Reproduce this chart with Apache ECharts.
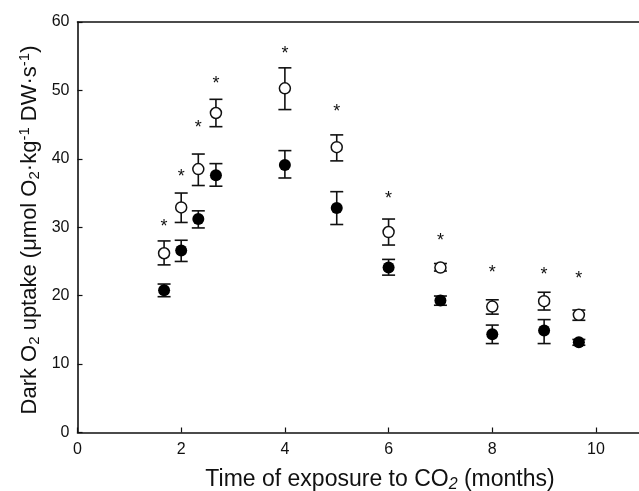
<!DOCTYPE html>
<html>
<head>
<meta charset="utf-8">
<script src="https://cdn.jsdelivr.net/npm/echarts@6/dist/echarts.min.js"></script>
<style>html,body{margin:0;padding:0;background:#fff}#c{width:639px;height:491px}</style>
</head>
<body>
<div id="c"></div>
<script>
// Time (months)
var months = [1.67, 2, 2.33, 2.67, 4, 5, 6, 7, 8, 9, 9.67];
// Open circles (means and error bar ends)
var openMean = [26.2, 32.9, 38.5, 46.7, 50.3, 41.7, 29.3, 24.1, 18.4, 19.2, 17.2];
var openHigh = [28.0, 35.0, 40.7, 48.7, 53.3, 43.5, 31.2, 24.7, 19.4, 20.5, 17.9];
var openLow  = [24.5, 30.7, 36.1, 44.7, 47.2, 39.7, 27.4, 23.6, 17.3, 17.9, 16.4];
// Filled circles
var fillMean = [20.8, 26.6, 31.2, 37.6, 39.1, 32.8, 24.1, 19.3, 14.35, 14.9, 13.2];
var fillHigh = [21.7, 28.1, 32.4, 39.3, 41.2, 35.2, 25.3, 19.95, 15.7, 16.5, 13.6];
var fillLow  = [19.85, 25.0, 29.9, 36.0, 37.2, 30.4, 23.0, 18.6, 13.0, 13.0, 12.75];
// Significance stars (y position)
var starY = [30.0, 37.3, 44.5, 51.0, 55.3, 46.9, 34.1, 28.0, 23.3, 23.0, 22.5];

var chart = echarts.init(document.getElementById('c'), null, {renderer: 'canvas'});

function errData(lo, hi) {
  return months.map(function (m, i) { return [m, lo[i], hi[i]]; });
}
function renderErr(params, api) {
  var x = api.value(0);
  var lo = api.coord([x, api.value(1)]);
  var hi = api.coord([x, api.value(2)]);
  var hw = 6.5;
  var st = {stroke: '#111', lineWidth: 1.6};
  return {
    type: 'group',
    children: [
      {type: 'line', shape: {x1: lo[0], y1: lo[1], x2: hi[0], y2: hi[1]}, style: st},
      {type: 'line', shape: {x1: lo[0] - hw, y1: lo[1], x2: lo[0] + hw, y2: lo[1]}, style: st},
      {type: 'line', shape: {x1: hi[0] - hw, y1: hi[1], x2: hi[0] + hw, y2: hi[1]}, style: st}
    ]
  };
}
function renderStar(params, api) {
  var p = api.coord([api.value(0), api.value(1)]);
  return {
    type: 'text',
    x: p[0], y: p[1],
    style: {text: '*', fill: '#111', font: '18px "Liberation Sans", Arial, sans-serif', align: 'center', verticalAlign: 'middle'}
  };
}

var font = '"Liberation Sans", Arial, sans-serif';
var option = {
  animation: false,
  backgroundColor: '#fff',
  grid: {left: 77.5, right: 0, top: 22, bottom: 58.5},
  xAxis: [{
    type: 'value', min: 0, max: 10.83, interval: 2,
    axisLine: {show: true, onZero: false, lineStyle: {color: '#111', width: 1.6}},
    axisTick: {show: true, inside: true, length: 5, lineStyle: {color: '#111', width: 1.2}},
    axisLabel: {color: '#111', fontSize: 16, fontFamily: font, margin: 9, showMaxLabel: false},
    splitLine: {show: false}
  }, {
    type: 'value', position: 'top', min: 0, max: 10.83,
    axisLine: {show: true, onZero: false, lineStyle: {color: '#111', width: 1.6}},
    axisTick: {show: false}, axisLabel: {show: false}, splitLine: {show: false}
  }],
  yAxis: {
    type: 'value', min: 0, max: 60, interval: 10,
    axisLine: {show: true, onZero: false, lineStyle: {color: '#111', width: 1.6}},
    axisTick: {show: true, inside: true, length: 5, lineStyle: {color: '#111', width: 1.2}},
    axisLabel: {color: '#111', fontSize: 16, fontFamily: font, margin: 8},
    splitLine: {show: false}
  },
  graphic: [{
    type: 'text', x: 380, y: 480,
    style: {
      text: 'Time of exposure to CO{s|2} (months)',
      font: '23px ' + font, fill: '#111', align: 'center', verticalAlign: 'middle',
      rich: {s: {fontSize: 16, fontFamily: font, padding: [10, 0, 0, 0], fontStyle: 'italic'}}
    }
  }, {
    type: 'text', x: 30, y: 230, rotation: Math.PI / 2,
    style: {
      text: 'Dark O{s|2} uptake (\u03bcmol O{s|2}\u00b7kg{p|-1} DW\u00b7s{p|-1})',
      font: '22px ' + font, fill: '#111', align: 'center', verticalAlign: 'middle',
      rich: {
        s: {fontSize: 15, fontFamily: font, padding: [10, 0, 0, 0]},
        p: {fontSize: 15, fontFamily: font, padding: [0, 0, 10, 0]}
      }
    }
  }],
  series: [{
    type: 'custom', renderItem: renderErr, data: errData(openLow, openHigh), z: 2
  }, {
    type: 'custom', renderItem: renderErr, data: errData(fillLow, fillHigh), z: 2
  }, {
    type: 'scatter', symbol: 'circle', symbolSize: 11, z: 3,
    itemStyle: {color: '#fff', borderColor: '#111', borderWidth: 1.5, opacity: 1},
    data: months.map(function (m, i) { return [m, openMean[i]]; })
  }, {
    type: 'scatter', symbol: 'circle', symbolSize: 12, z: 3,
    itemStyle: {color: '#000', borderColor: '#000', borderWidth: 0, opacity: 1},
    data: months.map(function (m, i) { return [m, fillMean[i]]; })
  }, {
    type: 'custom', renderItem: renderStar, z: 4,
    data: months.map(function (m, i) { return [m, starY[i]]; })
  }]
};
chart.setOption(option);
</script>
</body>
</html>
